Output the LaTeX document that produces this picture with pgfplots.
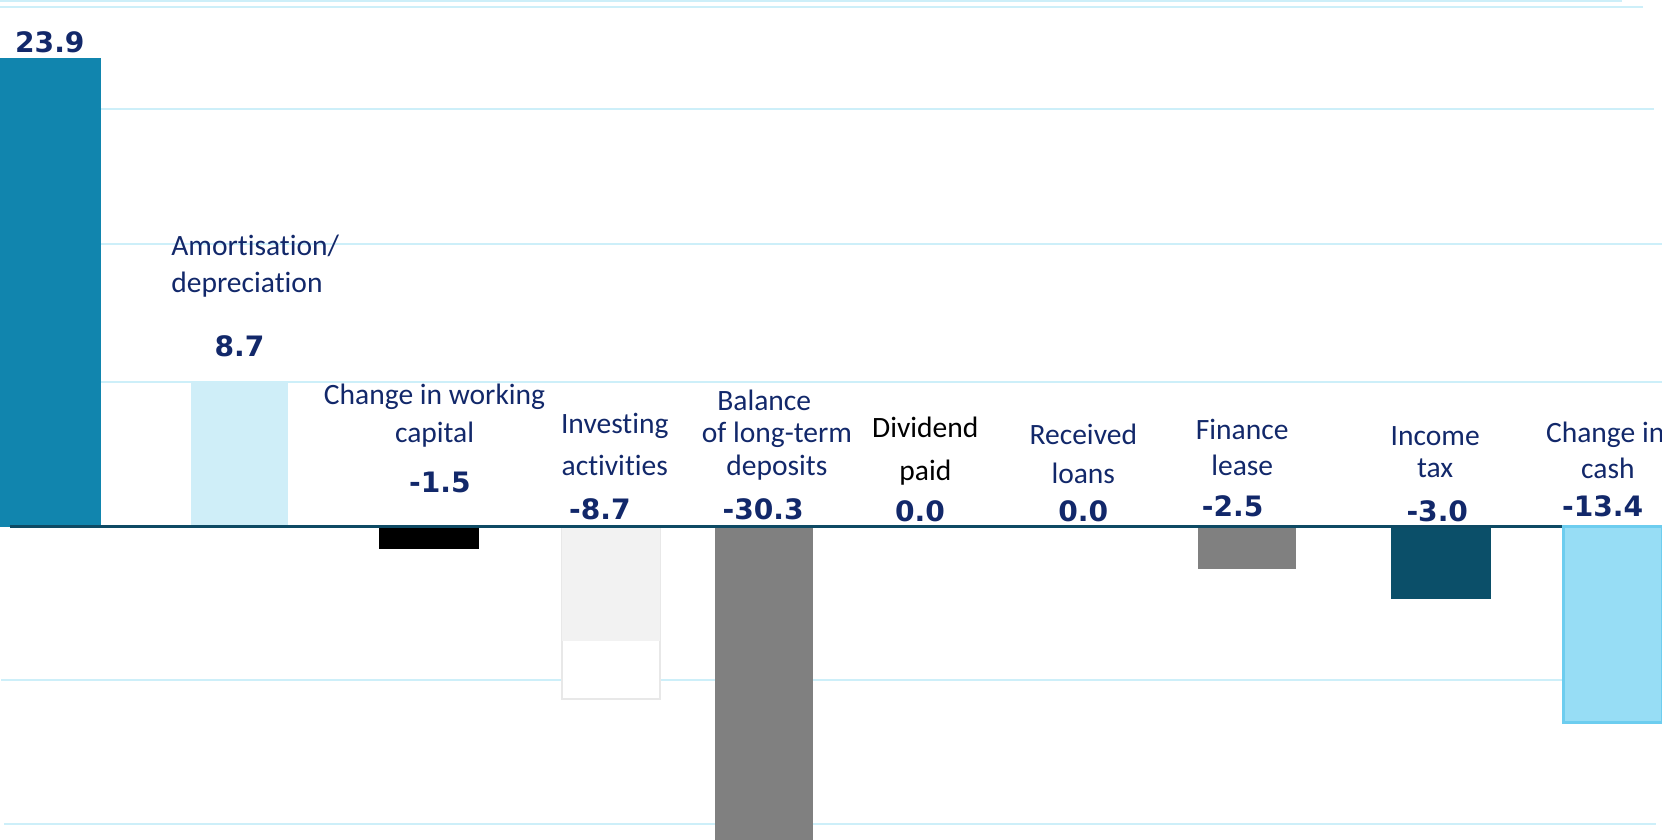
\documentclass[border=0pt]{standalone}
\usepackage{pgfplots}
\pgfplotsset{compat=1.18}
\usepackage{fontspec}
\setmainfont{Carlito}[Ligatures=NoCommon]
\newfontfamily\numfont{DejaVu Sans}
\definecolor{navy}{HTML}{12286A}
\definecolor{cA}{HTML}{1185AE}
\definecolor{cB}{HTML}{CFEEF8}
\definecolor{cGrey}{HTML}{808080}
\definecolor{cLight}{HTML}{F2F2F2}
\definecolor{cLightB}{HTML}{E8E8E8}
\definecolor{cDark}{HTML}{0B4F69}
\definecolor{cSky}{HTML}{97DDF5}
\definecolor{cSkyB}{HTML}{6DCDEF}
\definecolor{gridc}{HTML}{CDEFF9}
\definecolor{basec}{HTML}{0E4A64}
\newcommand{\cat}[4][]{\node[font=\fontsize{8.4}{10}\selectfont, text=navy, inner sep=0pt, #1] at (axis cs:#2,{(497-#3)/18.49}) {#4};}
\newcommand{\val}[3]{\node[font=\numfont\bfseries\fontsize{8}{9}\selectfont, text=navy, inner sep=0pt] at (axis cs:#1,{(497-#2)/18.49}) {#3};}
\begin{document}
\begin{tikzpicture}
\begin{axis}[
  name=ax,
  scale only axis,
  width=16.62cm, height=8.39cm,
  xmin=0, xmax=1568,
  ymin=-15.954, ymax=26.88,
  axis line style={draw=none},
  xtick=\empty, ytick=\empty,
  clip=true,
]
% grid lines
\addplot[gridc, line width=0.6pt] coordinates {(0,26.83) (1530,26.83)};
\addplot[gridc, line width=0.6pt] coordinates {(0,26.50) (1550,26.50)};
\addplot[gridc, line width=0.6pt] coordinates {(0,21.31) (1560,21.31)};
\addplot[gridc, line width=0.6pt] coordinates {(0,14.44) (1568,14.44)};
\addplot[gridc, line width=0.6pt] coordinates {(0,7.36) (1568,7.36)};
\addplot[gridc, line width=0.6pt] coordinates {(1,-7.84) (1568,-7.84)};
\addplot[gridc, line width=0.6pt] coordinates {(4,-15.20) (1562,-15.20)};
% bars
\addplot[ybar, bar shift=0pt, bar width=95, fill=cA, draw=none] coordinates {(47.5,23.9)};
\addplot[ybar, bar shift=0pt, bar width=92, fill=cB, draw=none] coordinates {(226,7.36)};
\addplot[ybar, bar shift=0pt, bar width=94, fill=black, draw=none] coordinates {(405,-1.14)};
\addplot[ybar, bar shift=0pt, bar width=92, fill=white, draw=cLightB, line width=0.6pt] coordinates {(576.5,-8.82)};
\addplot[ybar, bar shift=0pt, bar width=93, fill=cLight, draw=none] coordinates {(576.5,-5.84)};
\addplot[ybar, bar shift=0pt, bar width=92, fill=cGrey, draw=none] coordinates {(721,-30.3)};
\addplot[ybar, bar shift=0pt, bar width=93, fill=cGrey, draw=none] coordinates {(1176.5,-2.16)};
\addplot[ybar, bar shift=0pt, bar width=95, fill=cDark, draw=none] coordinates {(1359.5,-3.68)};
% baseline
\addplot[basec, line width=0.9pt] coordinates {(9,0) (1568,0)};
\addplot[ybar, bar shift=0pt, bar width=93, fill=cSky, draw=cSkyB, line width=0.8pt] coordinates {(1521.5,-10.0)};
% labels
\val{47}{40}{23.9}
\cat[anchor=west]{161}{232}{Amortisation/}
\cat[anchor=west]{161}{269}{depreciation}
\val{226}{327}{8.7}
\cat{410}{375}{Change in working}
\cat{410}{410}{capital}
\val{415}{455}{-1.5}
\cat{580}{402}{Investing}
\cat{580}{439}{activities}
\val{566}{481}{-8.7}
\cat{721}{378}{Balance}
\cat{733}{410}{of long-term}
\cat{733}{441}{deposits}
\val{720}{481}{-30.3}
\cat[text=black]{873}{403}{Dividend}
\cat[text=black]{873}{446}{paid}
\val{868}{483}{0.0}
\cat{1022}{410}{Received}
\cat{1022}{447}{loans}
\val{1022}{483}{0.0}
\cat{1172}{405}{Finance}
\cat{1172}{439}{lease}
\val{1163}{478}{-2.5}
\cat{1354}{412}{Income}
\cat{1354}{442}{tax}
\val{1356}{483}{-3.0}
\cat[anchor=west]{1458}{410}{Change in}
\cat{1517}{442}{cash}
\val{1512}{478}{-13.4}
\end{axis}
\pgfresetboundingbox
\useasboundingbox (ax.south west) rectangle (ax.north east);
\end{tikzpicture}
\end{document}
